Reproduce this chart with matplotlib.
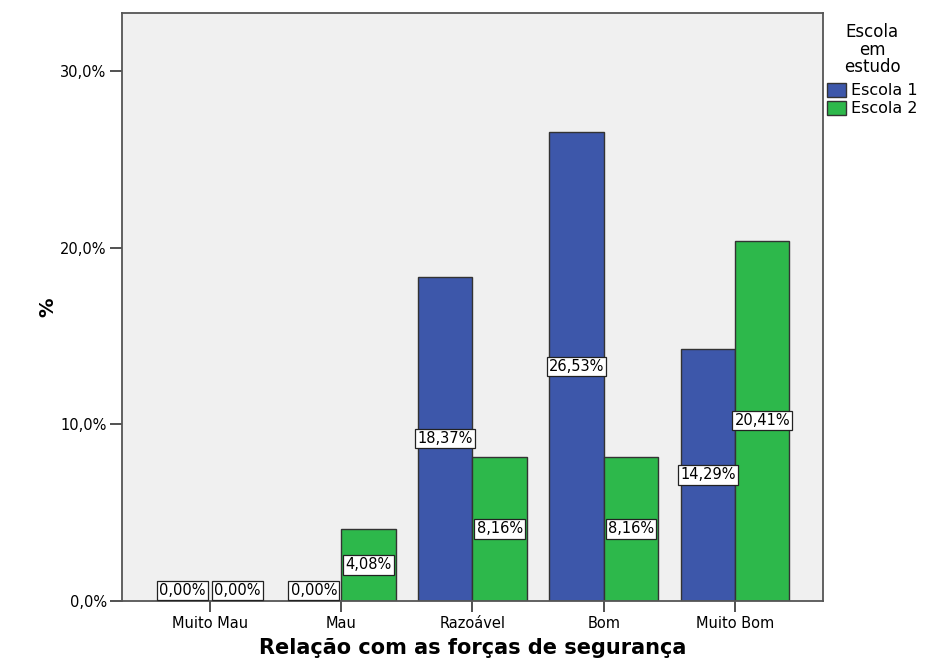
import numpy as np
import matplotlib.pyplot as plt
from matplotlib.patches import Patch

# dados
categorias = ['Muito Mau', 'Mau', 'Razoável', 'Bom', 'Muito Bom']
escola1 = [0.0, 0.0, 18.37, 26.53, 14.29]
escola2 = [0.0, 4.08, 8.16, 8.16, 20.41]
series = ['Escola 1', 'Escola 2']
cores = ['#3d57aa', '#2db84b']

plt.rcParams['font.family'] = ['DejaVu Sans']

fig = plt.figure(figsize=(9.26, 6.63), dpi=100)
ax = fig.add_axes([0.1317, 0.0935, 0.757, 0.887])
ax.set_facecolor('#f0f0f0')

x = np.arange(len(categorias))
w = 0.415
for i, (vals, cor) in enumerate(zip([escola1, escola2], cores)):
    pos = x + (i - 0.5) * w
    ax.bar(pos, vals, width=w, color=cor, edgecolor='#333333', linewidth=1.0, zorder=2)
    for px, v in zip(pos, vals):
        txt = ('%.2f%%' % v).replace('.', ',')
        box = dict(boxstyle='square,pad=0.15', facecolor='white', edgecolor='#222222', linewidth=0.9)
        if v > 0:
            ax.text(px, v / 2, txt, ha='center', va='center', fontsize=10.5, bbox=box, zorder=3)
        else:
            ax.annotate(txt, (px, 0), xytext=(0, 7.5), textcoords='offset points',
                        ha='center', va='center', fontsize=10.5, bbox=box, zorder=3)

ax.set_xlim(-0.67, 4.67)
ax.set_ylim(0, 33.3)
ax.set_xticks(x)
ax.set_xticklabels(categorias, fontsize=10.5)
ax.set_yticks([0, 10, 20, 30])
ax.set_yticklabels(['0,0%', '10,0%', '20,0%', '30,0%'], fontsize=10.5)
ax.tick_params(axis='x', direction='out', length=8, width=1.2, color='#333333', pad=3)
ax.tick_params(axis='y', direction='out', length=9, width=1.2, color='#333333', pad=2)
for s in ax.spines.values():
    s.set_color('#555555')
    s.set_linewidth(1.3)

ax.set_xlabel('Relação com as forças de segurança', fontsize=15, fontweight='bold', labelpad=5)
ax.set_ylabel('%', fontsize=14, fontweight='bold', labelpad=2)

handles = [Patch(facecolor=c, edgecolor='#333333', label=s) for s, c in zip(series, cores)]
leg = fig.legend(handles=handles, title='Escola\nem\nestudo', loc='upper left',
                 bbox_to_anchor=(0.893, 0.965), frameon=False, fontsize=11.5,
                 title_fontsize=12, handlelength=1.2, handleheight=1.0,
                 handletextpad=0.3, labelspacing=0.15, borderaxespad=0, borderpad=0)
leg.get_title().set_multialignment('center')
leg.get_title().set_linespacing(0.95)
leg._legend_box.sep = 5

fig.savefig('out.png', dpi=100)
